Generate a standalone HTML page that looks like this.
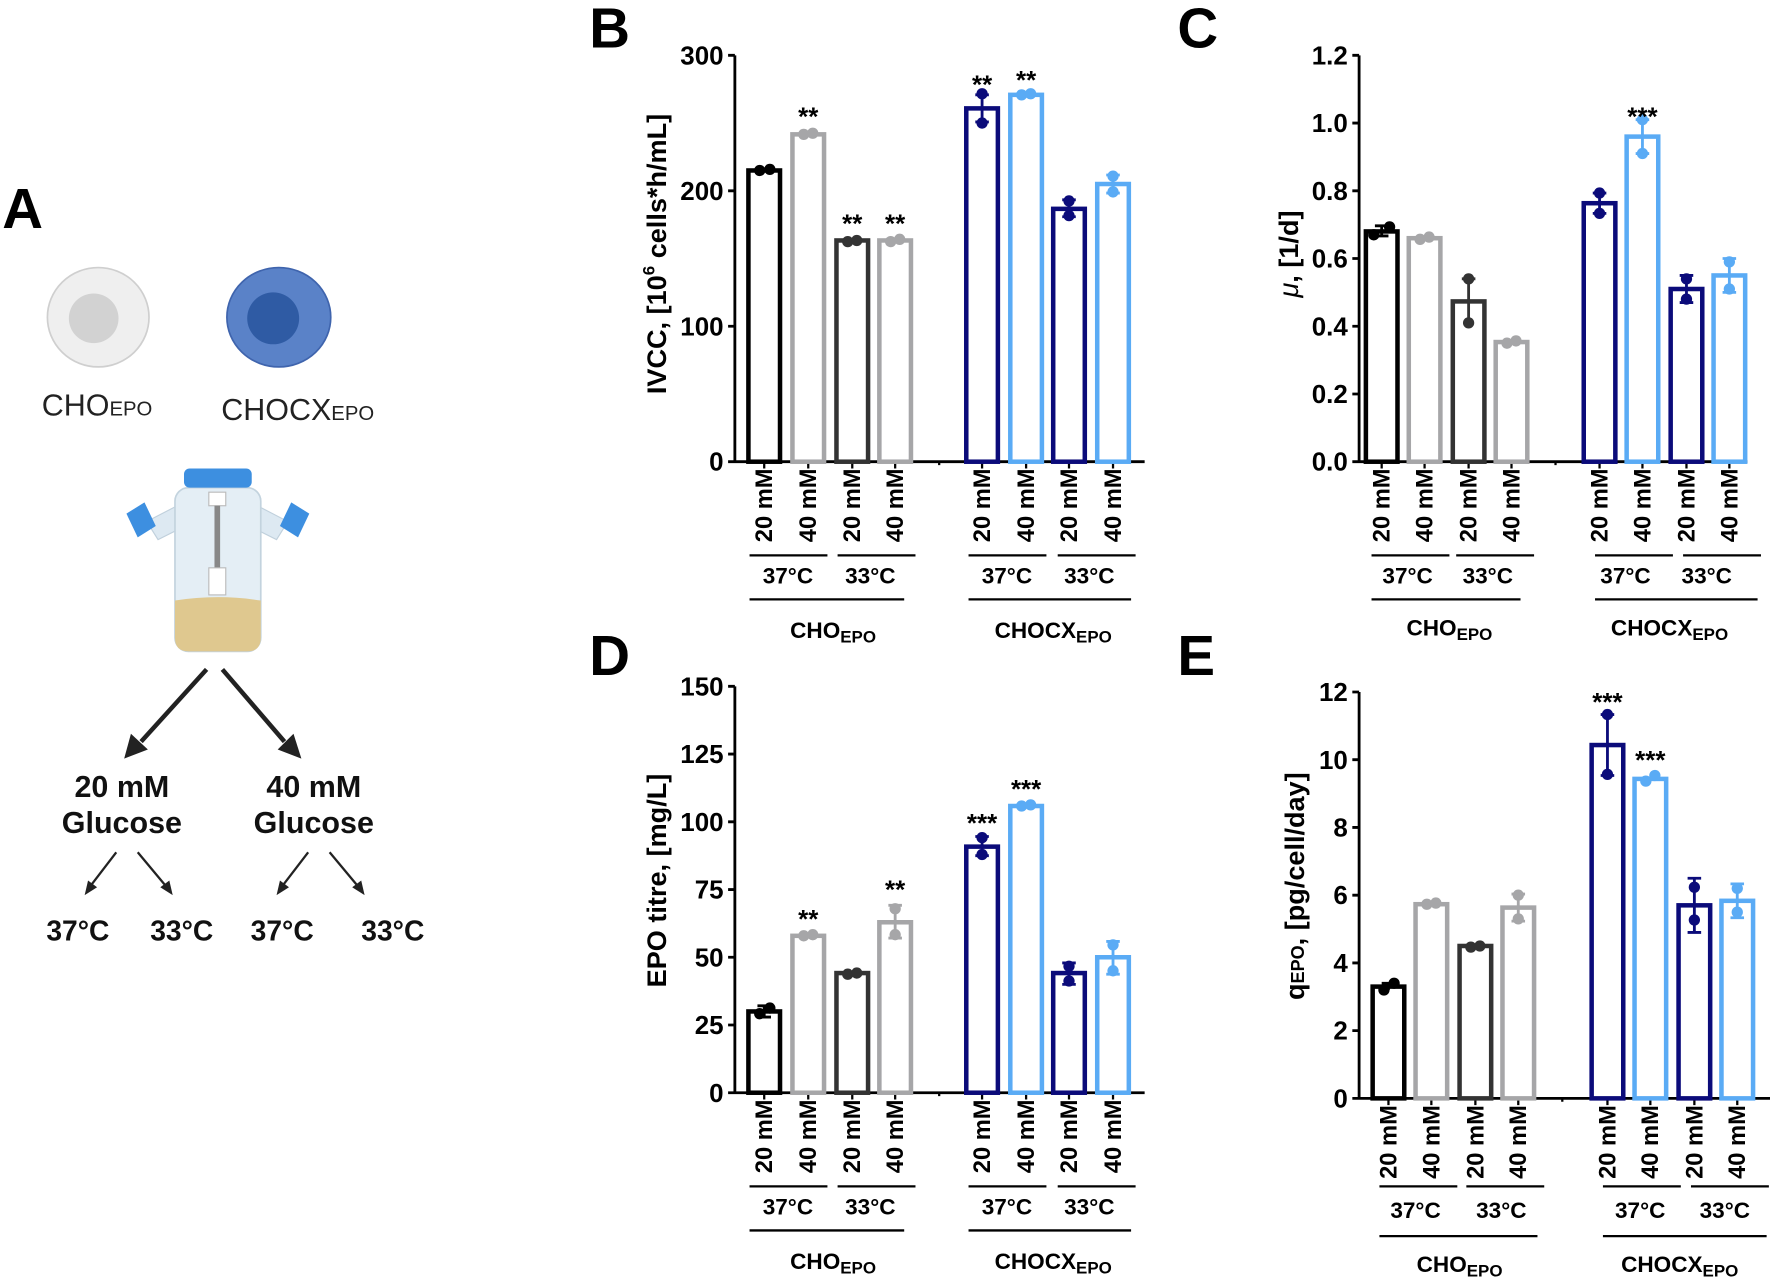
<!DOCTYPE html>
<html><head><meta charset="utf-8"><style>
html,body{margin:0;padding:0;background:#fff;}
svg{display:block;font-family:"Liberation Sans",Arial,sans-serif;}
.t{font-weight:bold;font-size:23px;}
.x{font-weight:bold;font-size:21px;}
.g{font-weight:bold;font-size:20px;}
</style></head><body>
<svg width="1770" height="1279" viewBox="0 0 1568 1133" xmlns="http://www.w3.org/2000/svg">
<rect width="1568" height="1133" fill="#fff"/>
<g font-weight="bold" font-size="50">
<text x="2" y="202">A</text><text x="522" y="42">B</text><text x="1043" y="42">C</text>
<text x="522" y="598">D</text><text x="1043" y="598">E</text></g>

<!-- Panel A -->
<ellipse cx="87" cy="281" rx="45" ry="44" fill="#efefef" stroke="#cfcfcf" stroke-width="1.5"/>
<circle cx="83" cy="282" r="22" fill="#d2d2d2"/>
<ellipse cx="247" cy="281" rx="46" ry="44" fill="#5a82c8" stroke="#3f64ad" stroke-width="1.5"/>
<circle cx="242" cy="282" r="23" fill="#2f5ba4"/>
<text x="37" y="368" font-size="27" fill="#222">CHO<tspan font-size="18">EPO</tspan></text>
<text x="196" y="372" font-size="27" fill="#222">CHOCX<tspan font-size="18">EPO</tspan></text>
<path d="M130 462 L157 448 L160 468 L140 478Z" fill="#dde9f2" stroke="#c0d0dc"/>
<path d="M228 448 L255 462 L245 478 L225 468Z" fill="#dde9f2" stroke="#c0d0dc"/>
<path d="M112 455 L128 445 L138 466 L122 476Z" fill="#3d8fe0"/>
<path d="M258 445 L274 455 L264 476 L248 466Z" fill="#3d8fe0"/>
<rect x="155" y="432" width="76" height="145" rx="12" fill="#e4eef5" stroke="#c3d3de" stroke-width="1.5"/>
<path d="M155 532 Q193 526 231 532 L231 565 Q231 577 219 577 L167 577 Q155 577 155 565Z" fill="#dfc88f"/>
<rect x="163" y="415" width="60" height="17" rx="5" fill="#3d8fe0"/>
<rect x="185" y="436" width="15" height="12" fill="#fff" stroke="#bbb"/>
<rect x="190" y="448" width="5" height="55" fill="#888"/>
<rect x="185" y="503" width="15" height="24" fill="#fff" stroke="#bbb"/>
<g stroke="#222" stroke-width="4"><line x1="183" y1="593" x2="125" y2="657"/><line x1="197" y1="593" x2="252" y2="657"/></g>
<path d="M110 672 L116 650 L131 664Z" fill="#222"/><path d="M267 672 L246 664 L260 650Z" fill="#222"/>
<g font-weight="bold" font-size="27" text-anchor="middle" fill="#111">
<text x="108" y="706">20 mM</text><text x="108" y="738">Glucose</text>
<text x="278" y="706">40 mM</text><text x="278" y="738">Glucose</text></g>
<g stroke="#222" stroke-width="2"><line x1="103" y1="755" x2="80" y2="785"/><line x1="122" y1="755" x2="147" y2="785"/>
<line x1="273" y1="755" x2="250" y2="785"/><line x1="292" y1="755" x2="317" y2="785"/></g>
<g fill="#222"><path d="M75 793 L78 780 L86 786Z"/><path d="M153 793 L142 786 L150 780Z"/><path d="M245 793 L248 780 L256 786Z"/><path d="M323 793 L312 786 L320 780Z"/></g>
<g font-weight="bold" font-size="25" text-anchor="middle" fill="#111">
<text x="69" y="833">37°C</text><text x="161" y="833">33°C</text><text x="250" y="833">37°C</text><text x="348" y="833">33°C</text></g>

<!-- Panel B -->
<text transform="translate(590,225) rotate(-90)" text-anchor="middle" font-weight="bold" font-size="24">IVCC, [10<tspan font-size="15" dy="-10">6</tspan><tspan dy="10"> cells*h/mL]</tspan></text>
<g transform="translate(651,409)">
<g class="t" text-anchor="end"><text x="-10" y="8">0</text><text x="-10" y="-112">100</text><text x="-10" y="-232">200</text><text x="-10" y="-352">300</text></g>
<path d="M0 0V-360 M-6 0H0 M-6 -120H0 M-6 -240H0 M-6 -360H0 M0 0H363" stroke="#000" stroke-width="2.5" fill="none"/>
<path d="M26 0v6M65 0v6M104 0v6M142 0v6M181 0v3M219 0v6M258 0v6M296 0v6M335 0v6" stroke="#000" stroke-width="2"/>
<g stroke-width="4" fill="#fff">
<rect x="12" y="-258" width="28" height="258" stroke="#000"/>
<rect x="51" y="-290" width="28" height="290" stroke="#a6a6a8"/>
<rect x="90" y="-196" width="28" height="196" stroke="#333"/>
<rect x="128" y="-196" width="28" height="196" stroke="#a6a6a8"/>
<rect x="205" y="-313" width="28" height="313" stroke="#0b0b7a"/>
<rect x="244" y="-325" width="28" height="325" stroke="#5aabf5"/>
<rect x="282" y="-224" width="28" height="224" stroke="#0b0b7a"/>
<rect x="321" y="-246" width="28" height="246" stroke="#5aabf5"/></g>
<g stroke-width="2.5" fill="none">
<path d="M219 -325v24M213 -325h12M213 -301h12" stroke="#0b0b7a"/>
<path d="M296 -232v15M290 -232h12M290 -217h12" stroke="#0b0b7a"/>
<path d="M335 -254v16M329 -254h12M329 -238h12" stroke="#5aabf5"/></g>
<circle cx="22" cy="-258" r="5"/><circle cx="31" cy="-259" r="5"/>
<g fill="#a6a6a8"><circle cx="61" cy="-290" r="5"/><circle cx="69" cy="-291" r="5"/><circle cx="138" cy="-195" r="5"/><circle cx="146" cy="-197" r="5"/></g>
<g fill="#333"><circle cx="100" cy="-195" r="5"/><circle cx="108" cy="-196" r="5"/></g>
<g fill="#0b0b7a"><circle cx="219" cy="-326" r="5"/><circle cx="219" cy="-300" r="5"/><circle cx="296" cy="-231" r="5"/><circle cx="296" cy="-218" r="5"/></g>
<g fill="#5aabf5"><circle cx="254" cy="-325" r="5"/><circle cx="262" cy="-326" r="5"/><circle cx="335" cy="-253" r="5"/><circle cx="335" cy="-239" r="5"/></g>
<g class="t" text-anchor="middle"><text x="65" y="-298">**</text><text x="104" y="-203">**</text><text x="142" y="-203">**</text><text x="219" y="-326">**</text><text x="258" y="-330">**</text></g>
<g class="x" text-anchor="end">
<text transform="translate(33,6) rotate(-90)">20 mM</text><text transform="translate(72,6) rotate(-90)">40 mM</text><text transform="translate(111,6) rotate(-90)">20 mM</text><text transform="translate(149,6) rotate(-90)">40 mM</text>
<text transform="translate(226,6) rotate(-90)">20 mM</text><text transform="translate(265,6) rotate(-90)">40 mM</text><text transform="translate(303,6) rotate(-90)">20 mM</text><text transform="translate(342,6) rotate(-90)">40 mM</text></g>
<path d="M13 83H82M91 83H160M207 83H276M286 83H355M13 122H150M207 122H351" stroke="#000" stroke-width="2"/>
<g class="g" text-anchor="middle"><text x="47" y="108">37°C</text><text x="120" y="108">33°C</text><text x="241" y="108">37°C</text><text x="314" y="108">33°C</text>
<text x="87" y="156">CHO<tspan font-size="15" dy="4">EPO</tspan></text><text x="282" y="156">CHOCX<tspan font-size="15" dy="4">EPO</tspan></text></g>
</g>

<!-- Panel C -->
<text transform="translate(1150,225) rotate(-90)" text-anchor="middle" font-weight="bold" font-size="24"><tspan font-style="italic" font-weight="normal">μ</tspan>, [1/d]</text>
<g transform="translate(1204,409)">
<g class="t" text-anchor="end"><text x="-10" y="8">0.0</text><text x="-10" y="-52">0.2</text><text x="-10" y="-112">0.4</text><text x="-10" y="-172">0.6</text><text x="-10" y="-232">0.8</text><text x="-10" y="-292">1.0</text><text x="-10" y="-352">1.2</text></g>
<path d="M0 0V-360 M-6 0H0 M-6 -60H0 M-6 -120H0 M-6 -180H0 M-6 -240H0 M-6 -300H0 M-6 -360H0 M0 0H344" stroke="#000" stroke-width="2.5" fill="none"/>
<path d="M20 0v6M58 0v6M97 0v6M135 0v6M174 0v3M213 0v6M251 0v6M290 0v6M328 0v6" stroke="#000" stroke-width="2"/>
<g stroke-width="4" fill="#fff">
<rect x="6" y="-204" width="28" height="204" stroke="#000"/>
<rect x="44" y="-198" width="28" height="198" stroke="#a6a6a8"/>
<rect x="83" y="-142" width="28" height="142" stroke="#333"/>
<rect x="121" y="-106" width="28" height="106" stroke="#a6a6a8"/>
<rect x="199" y="-229" width="28" height="229" stroke="#0b0b7a"/>
<rect x="237" y="-288" width="28" height="288" stroke="#5aabf5"/>
<rect x="276" y="-153" width="28" height="153" stroke="#0b0b7a"/>
<rect x="314" y="-165" width="28" height="165" stroke="#5aabf5"/></g>
<g stroke-width="2.5" fill="none">
<path d="M20 -209v9M14 -209h12M14 -200h12" stroke="#000"/>
<path d="M97 -162v39M91 -162h12" stroke="#333"/>
<path d="M213 -238v18M207 -238h12M207 -220h12" stroke="#0b0b7a"/>
<path d="M251 -303v30M245 -303h12M245 -273h12" stroke="#5aabf5"/>
<path d="M290 -165v24M284 -165h12M284 -141h12" stroke="#0b0b7a"/>
<path d="M328 -180v30M322 -180h12M322 -150h12" stroke="#5aabf5"/></g>
<circle cx="13" cy="-201" r="5"/><circle cx="27" cy="-208" r="5"/>
<g fill="#a6a6a8"><circle cx="54" cy="-197" r="5"/><circle cx="62" cy="-199" r="5"/><circle cx="131" cy="-105" r="5"/><circle cx="139" cy="-107" r="5"/></g>
<g fill="#333"><circle cx="97" cy="-162" r="5"/><circle cx="97" cy="-123" r="5"/></g>
<g fill="#0b0b7a"><circle cx="213" cy="-238" r="5"/><circle cx="213" cy="-220" r="5"/><circle cx="290" cy="-162" r="5"/><circle cx="290" cy="-144" r="5"/></g>
<g fill="#5aabf5"><circle cx="251" cy="-303" r="5"/><circle cx="251" cy="-273" r="5"/><circle cx="328" cy="-177" r="5"/><circle cx="328" cy="-153" r="5"/></g>
<g class="t" text-anchor="middle"><text x="251" y="-298">***</text></g>
<g class="x" text-anchor="end">
<text transform="translate(27,6) rotate(-90)">20 mM</text><text transform="translate(65,6) rotate(-90)">40 mM</text><text transform="translate(104,6) rotate(-90)">20 mM</text><text transform="translate(142,6) rotate(-90)">40 mM</text>
<text transform="translate(220,6) rotate(-90)">20 mM</text><text transform="translate(258,6) rotate(-90)">40 mM</text><text transform="translate(297,6) rotate(-90)">20 mM</text><text transform="translate(335,6) rotate(-90)">40 mM</text></g>
<path d="M11 83H80M86 83H155M209 83H278M287 83H356M11 122H143M209 122H353" stroke="#000" stroke-width="2"/>
<g class="g" text-anchor="middle"><text x="43" y="108">37°C</text><text x="114" y="108">33°C</text><text x="236" y="108">37°C</text><text x="308" y="108">33°C</text>
<text x="80" y="154">CHO<tspan font-size="15" dy="4">EPO</tspan></text><text x="275" y="154">CHOCX<tspan font-size="15" dy="4">EPO</tspan></text></g>
</g>

<!-- Panel D -->
<text transform="translate(590,780) rotate(-90)" text-anchor="middle" font-weight="bold" font-size="24">EPO titre, [mg/L]</text>
<g transform="translate(651,968)">
<g class="t" text-anchor="end"><text x="-10" y="8">0</text><text x="-10" y="-52">25</text><text x="-10" y="-112">50</text><text x="-10" y="-172">75</text><text x="-10" y="-232">100</text><text x="-10" y="-292">125</text><text x="-10" y="-352">150</text></g>
<path d="M0 0V-360 M-6 0H0 M-6 -60H0 M-6 -120H0 M-6 -180H0 M-6 -240H0 M-6 -300H0 M-6 -360H0 M0 0H363" stroke="#000" stroke-width="2.5" fill="none"/>
<path d="M26 0v6M65 0v6M104 0v6M142 0v6M181 0v3M219 0v6M258 0v6M296 0v6M335 0v6" stroke="#000" stroke-width="2"/>
<g stroke-width="4" fill="#fff">
<rect x="12" y="-72" width="28" height="72" stroke="#000"/>
<rect x="51" y="-139" width="28" height="139" stroke="#a6a6a8"/>
<rect x="90" y="-106" width="28" height="106" stroke="#333"/>
<rect x="128" y="-151" width="28" height="151" stroke="#a6a6a8"/>
<rect x="205" y="-218" width="28" height="218" stroke="#0b0b7a"/>
<rect x="244" y="-254" width="28" height="254" stroke="#5aabf5"/>
<rect x="282" y="-106" width="28" height="106" stroke="#0b0b7a"/>
<rect x="321" y="-120" width="28" height="120" stroke="#5aabf5"/></g>
<g stroke-width="2.5" fill="none">
<path d="M26 -77v10M20 -77h12M20 -67h12" stroke="#000"/>
<path d="M142 -166v29M136 -166h12M136 -137h12" stroke="#a6a6a8"/>
<path d="M219 -227v17M213 -227h12M213 -210h12" stroke="#0b0b7a"/>
<path d="M296 -115v19M290 -115h12M290 -96h12" stroke="#0b0b7a"/>
<path d="M335 -134v29M329 -134h12M329 -105h12" stroke="#5aabf5"/></g>
<circle cx="22" cy="-70" r="5"/><circle cx="31" cy="-75" r="5"/>
<g fill="#a6a6a8"><circle cx="61" cy="-139" r="5"/><circle cx="69" cy="-140" r="5"/><circle cx="142" cy="-163" r="5"/><circle cx="142" cy="-140" r="5"/></g>
<g fill="#333"><circle cx="100" cy="-105" r="5"/><circle cx="108" cy="-106" r="5"/></g>
<g fill="#0b0b7a"><circle cx="219" cy="-226" r="5"/><circle cx="219" cy="-211" r="5"/><circle cx="296" cy="-112" r="5"/><circle cx="296" cy="-99" r="5"/></g>
<g fill="#5aabf5"><circle cx="254" cy="-254" r="5"/><circle cx="262" cy="-255" r="5"/><circle cx="335" cy="-131" r="5"/><circle cx="335" cy="-108" r="5"/></g>
<g class="t" text-anchor="middle"><text x="65" y="-146">**</text><text x="142" y="-172">**</text><text x="219" y="-231">***</text><text x="258" y="-261">***</text></g>
<g class="x" text-anchor="end">
<text transform="translate(33,6) rotate(-90)">20 mM</text><text transform="translate(72,6) rotate(-90)">40 mM</text><text transform="translate(111,6) rotate(-90)">20 mM</text><text transform="translate(149,6) rotate(-90)">40 mM</text>
<text transform="translate(226,6) rotate(-90)">20 mM</text><text transform="translate(265,6) rotate(-90)">40 mM</text><text transform="translate(303,6) rotate(-90)">20 mM</text><text transform="translate(342,6) rotate(-90)">40 mM</text></g>
<path d="M13 83H82M91 83H160M207 83H276M286 83H355M13 122H150M207 122H351" stroke="#000" stroke-width="2"/>
<g class="g" text-anchor="middle"><text x="47" y="108">37°C</text><text x="120" y="108">33°C</text><text x="241" y="108">37°C</text><text x="314" y="108">33°C</text>
<text x="87" y="156">CHO<tspan font-size="15" dy="4">EPO</tspan></text><text x="282" y="156">CHOCX<tspan font-size="15" dy="4">EPO</tspan></text></g>
</g>

<!-- Panel E -->
<text transform="translate(1155,785) rotate(-90)" text-anchor="middle" font-weight="bold" font-size="24">q<tspan font-size="16">EPO</tspan>, [pg/cell/day]</text>
<g transform="translate(1204,973)">
<g class="t" text-anchor="end"><text x="-10" y="8">0</text><text x="-10" y="-52">2</text><text x="-10" y="-112">4</text><text x="-10" y="-172">6</text><text x="-10" y="-232">8</text><text x="-10" y="-292">10</text><text x="-10" y="-352">12</text></g>
<path d="M0 0V-360 M-6 0H0 M-6 -60H0 M-6 -120H0 M-6 -180H0 M-6 -240H0 M-6 -300H0 M-6 -360H0 M0 0H364" stroke="#000" stroke-width="2.5" fill="none"/>
<path d="M26 0v6M64 0v6M103 0v6M141 0v6M180 0v3M220 0v6M258 0v6M297 0v6M335 0v6" stroke="#000" stroke-width="2"/>
<g stroke-width="4" fill="#fff">
<rect x="12" y="-99" width="28" height="99" stroke="#000"/>
<rect x="50" y="-172" width="28" height="172" stroke="#a6a6a8"/>
<rect x="89" y="-135" width="28" height="135" stroke="#333"/>
<rect x="127" y="-169" width="28" height="169" stroke="#a6a6a8"/>
<rect x="206" y="-313" width="28" height="313" stroke="#0b0b7a"/>
<rect x="244" y="-283" width="28" height="283" stroke="#5aabf5"/>
<rect x="283" y="-171" width="28" height="171" stroke="#0b0b7a"/>
<rect x="321" y="-175" width="28" height="175" stroke="#5aabf5"/></g>
<g stroke-width="2.5" fill="none">
<path d="M26 -102v6M20 -102h12" stroke="#000"/>
<path d="M141 -181v24M135 -181h12M135 -157h12" stroke="#a6a6a8"/>
<path d="M220 -340v54M214 -340h12M214 -286h12" stroke="#0b0b7a"/>
<path d="M297 -195v48M291 -195h12M291 -147h12" stroke="#0b0b7a"/>
<path d="M335 -190v30M329 -190h12M329 -160h12" stroke="#5aabf5"/></g>
<circle cx="22" cy="-96" r="5"/><circle cx="31" cy="-102" r="5"/>
<g fill="#a6a6a8"><circle cx="60" cy="-172" r="5"/><circle cx="68" cy="-173" r="5"/><circle cx="141" cy="-180" r="5"/><circle cx="141" cy="-159" r="5"/></g>
<g fill="#333"><circle cx="99" cy="-134" r="5"/><circle cx="107" cy="-135" r="5"/></g>
<g fill="#0b0b7a"><circle cx="220" cy="-340" r="5"/><circle cx="220" cy="-287" r="5"/><circle cx="297" cy="-187" r="5"/><circle cx="297" cy="-158" r="5"/></g>
<g fill="#5aabf5"><circle cx="254" cy="-281" r="5"/><circle cx="262" cy="-286" r="5"/><circle cx="335" cy="-186" r="5"/><circle cx="335" cy="-165" r="5"/></g>
<g class="t" text-anchor="middle"><text x="220" y="-343">***</text><text x="258" y="-292">***</text></g>
<g class="x" text-anchor="end">
<text transform="translate(33,6) rotate(-90)">20 mM</text><text transform="translate(71,6) rotate(-90)">40 mM</text><text transform="translate(110,6) rotate(-90)">20 mM</text><text transform="translate(148,6) rotate(-90)">40 mM</text>
<text transform="translate(227,6) rotate(-90)">20 mM</text><text transform="translate(265,6) rotate(-90)">40 mM</text><text transform="translate(304,6) rotate(-90)">20 mM</text><text transform="translate(342,6) rotate(-90)">40 mM</text></g>
<path d="M18 78H87M95 78H164M216 78H285M294 78H363M18 122H158M216 122H361" stroke="#000" stroke-width="2"/>
<g class="g" text-anchor="middle"><text x="50" y="106">37°C</text><text x="126" y="106">33°C</text><text x="249" y="106">37°C</text><text x="324" y="106">33°C</text>
<text x="89" y="154">CHO<tspan font-size="15" dy="4">EPO</tspan></text><text x="284" y="154">CHOCX<tspan font-size="15" dy="4">EPO</tspan></text></g>
</g>
</svg>
</body></html>
